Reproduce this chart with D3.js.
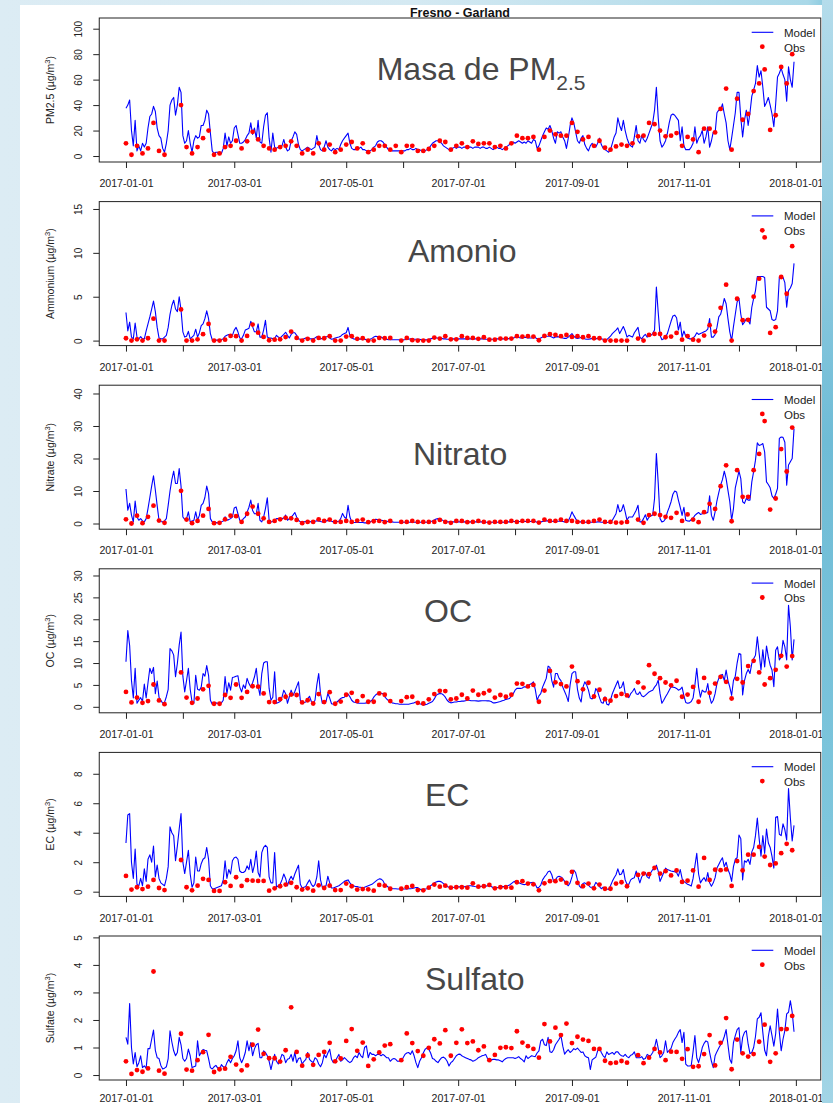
<!DOCTYPE html>
<html>
<head>
<meta charset="utf-8">
<script src="https://cdn.jsdelivr.net/npm/d3@7/dist/d3.min.js"></script>
<style>
html,body{margin:0;padding:0;background:#fff;}
svg{display:block;}
text{font-family:"Liberation Sans",Arial,sans-serif;}
</style>
</head>
<body>
<svg id="chart" width="833" height="1103"></svg>
<script>
// ================= DATA =================
const chartTitle = "Fresno - Garland";
const startDate = "2017-01-01";
const tickLabels = ["2017-01-01","2017-03-01","2017-05-01","2017-07-01","2017-09-01","2017-11-01","2018-01-01"];
const panelNames = ["Masa de PM", "Amonio", "Nitrato", "OC", "EC", "Sulfato"];
const axisNames = ["PM2.5", "Ammonium", "Nitrate", "OC", "EC", "Sulfate"];
const legendLabels = ["Model", "Obs"];
const yTicks = [[0,20,40,60,80,100],[0,5,10,15],[0,10,20,30,40],[0,5,10,15,20,25,30],[0,2,4,6,8],[0,1,2,3,4,5]];
const yLimits = [[-4.7,108.4],[-0.57,15.84],[-1.75,42.55],[-1.37,31.53],[-0.32,9.45],[-0.18,5.05]];

// daily model values, 2017-01-01 .. 2017-12-31
const modelPM25 = [
37.5,40,44,20,8,28,4,8,4,10, 7,10,22,31,33,39,35,22,16,14, 6,3,10,20,40,44,46,32,40,54,
50,16,10,12,20,10,3,12,16,14, 15,24,24,28,36,33,18,4,2,3, 3,2,2,6,18,8,15,10,12,22,
24,17,10,10,11,13,16,18,26,17, 22,14,28,11,10,23,32,34,14,3, 18,7,6,7,6,8,13,7,4,5,
12,15,19,17,9,5,4,5,6,7, 6,5,6,7,16,9,5,4,7,12, 7,5,4,6,5,6,5,9,12,14,
16,18,10,6,5,5,6,6,7,5, 5,4,4,4,5,7,8,11,12,12, 11,9,7,5,5,4,4,4,4,4,
4,4,4,5,5,6,5,5,6,5, 5,4,3,4,5,6,8,10,11,12, 12,11,10,8,7,6,5,6,6,7,
6,7,7,6,7,7,6,7,7,6, 7,7,7,6,7,7,6,6,7,6, 5,6,7,6,6,5,6,7,8,9,
10,11,10,11,12,11,10,11,10,12, 11,10,13,12,6,8,12,16,19,22, 21,24,20,14,10,19,18,19,15,12,
6,14,24,30,26,19,12,10,14,16, 9,6,4,8,10,8,7,10,14,9, 6,5,4,3,5,10,15,18,30,24,
20,28,20,14,10,8,7,15,24,12, 10,16,13,11,14,18,22,26,36,54, 30,12,7,9,12,18,26,32,33,32,
30,28,12,23,8,5,5,5,7,10, 23,10,14,16,20,10,15,23,7,12, 19,18,34,36,36,41,33,26,12,5,
14,24,34,50,50,30,15,28,36,24, 34,47,52,57,71,62,67,54,39,42, 46,40,33,23,41,62,65,69,64,60,
43,70,60,54,74];

const modelNH4 = [
3.2,1.1,2.1,0.4,0.2,2.0,0.4,0.2,0.45,0.2, 0.2,1.1,1.9,2.7,3.6,4.5,3.3,1.5,0.3,0.2, 0.2,0.4,0.6,1.5,3.0,4.0,4.6,3.6,3.3,5.0,
3.5,1.0,0.4,0.5,1.05,0.2,0.4,0.6,1.3,0.4, 0.9,1.7,1.9,2.5,3.4,2.5,0.8,0.1,0.05,0.05, 0.05,0.05,0.1,0.2,0.5,0.6,0.7,0.5,0.6,1.2,
1.5,1.0,0.3,0.2,0.6,1.2,1.3,1.4,2.2,1.6, 1.0,1.0,1.9,0.4,0.4,1.2,2.3,0.4,0.3,0.3, 0.2,0.2,0.6,0.4,0.3,0.5,0.7,0.95,0.6,0.3,
0.7,0.9,0.9,0.6,0.2,0.15,0.1,0.2,0.3,0.3, 0.2,0.2,0.2,0.3,0.45,0.3,0.2,0.25,0.3,0.4, 0.5,0.3,0.15,0.2,0.3,0.35,0.4,0.5,0.7,0.8,
0.9,1.5,0.6,0.3,0.2,0.15,0.15,0.2,0.15,0.15, 0.15,0.1,0.1,0.15,0.25,0.4,0.5,0.45,0.45,0.4, 0.3,0.2,0.15,0.1,0.1,0.1,0.1,0.1,0.1,0.1,
0.1,0.1,0.1,0.15,0.15,0.2,0.2,0.15,0.15,0.15, 0.15,0.1,0.1,0.1,0.1,0.15,0.2,0.25,0.3,0.3, 0.3,0.3,0.25,0.2,0.2,0.15,0.15,0.2,0.2,0.2,
0.2,0.2,0.2,0.2,0.2,0.2,0.2,0.2,0.2,0.2, 0.2,0.2,0.2,0.2,0.2,0.2,0.15,0.15,0.15,0.15, 0.15,0.15,0.2,0.2,0.2,0.2,0.2,0.2,0.2,0.25,
0.3,0.3,0.35,0.35,0.35,0.3,0.3,0.35,0.35,0.3, 0.3,0.3,0.35,0.35,0.2,0.2,0.3,0.4,0.45,0.5, 0.5,0.5,0.4,0.3,0.4,0.45,0.4,0.35,0.3,0.25,
0.25,0.4,0.6,0.8,0.5,0.3,0.25,0.3,0.35,0.3, 0.2,0.15,0.15,0.2,0.25,0.2,0.2,0.25,0.3,0.2, 0.15,0.1,0.1,0.3,0.5,0.8,1.0,1.2,1.45,0.8,
1.2,1.6,1.1,0.4,0.6,0.5,0.4,0.9,1.2,1.5, 0.4,0.2,0.5,0.7,0.4,0.5,0.6,0.8,1.2,6.1, 3.2,0.6,0.1,0.2,0.4,0.8,1.5,2.2,2.8,2.9,
2.6,1.2,2.1,0.4,1.1,0.5,0.3,0.2,0.2,0.3, 0.5,0.9,0.7,0.8,0.9,1.0,1.1,1.3,2.5,0.4, 0.4,0.7,1.5,2.7,3.0,3.8,4.8,4.2,2.5,1.0,
0.0,1.6,3.0,4.4,4.8,3.0,1.8,2.1,2.5,2.3, 1.9,3.8,4.8,5.7,7.3,7.3,7.3,7.3,7.2,3.8, 3.6,3.4,2.4,2.3,2.4,3.4,7.25,7.4,7.2,6.6,
3.8,5.7,6.0,6.5,8.8];

const modelNO3 = [
10.6,4.1,6.2,2.6,0.5,6.9,2.0,1.0,1.5,0.8, 0.5,1.5,4.6,8.0,11.5,14.7,10.3,5.5,1.0,0.6, 0.5,0.8,1.5,5.6,10.0,13.5,16.1,12.3,12.3,16.9,
11.5,2.0,1.3,1.5,3.6,0.5,0.8,1.0,3.6,1.0, 2.5,5.6,6.2,8.0,11.5,9.2,1.5,0.5,0.3,0.3, 0.2,0.2,0.5,0.8,2.05,1.0,1.2,1.5,2.0,4.8,
5.1,3.0,1.0,0.7,1.5,2.0,3.5,5.0,7.2,4.0, 3.0,3.0,6.2,1.0,0.5,2.0,4.6,7.9,1.0,0.5, 0.6,1.0,1.5,1.5,1.3,1.5,1.7,2.6,1.0,1.5,
2.0,2.6,3.4,2.0,1.0,0.5,0.5,0.5,0.6,0.7, 0.6,0.5,0.6,0.7,0.8,0.8,0.6,0.5,0.7,0.8, 0.9,0.9,0.7,0.5,0.5,0.6,0.7,1.5,3.1,2.0,
1.5,5.6,2.0,0.5,0.3,0.3,0.3,0.3,0.3,0.3, 0.2,0.2,0.3,0.5,0.8,1.1,1.3,1.2,1.0,1.0, 0.9,0.8,0.7,0.6,0.5,0.5,0.4,0.4,0.4,0.4,
0.4,0.4,0.4,0.4,0.4,0.4,0.4,0.4,0.4,0.4, 0.4,0.4,0.4,0.4,0.4,0.5,0.6,0.8,1.1,1.4, 1.5,1.4,1.2,0.8,0.6,0.5,0.5,0.5,0.5,0.5,
0.5,0.5,0.5,0.5,0.5,0.5,0.5,0.5,0.5,0.5, 0.5,0.5,0.5,0.5,0.5,0.5,0.4,0.4,0.4,0.4, 0.4,0.4,0.4,0.4,0.4,0.4,0.4,0.5,0.5,0.5,
0.6,0.6,0.6,0.6,0.6,0.6,0.6,0.6,0.6,0.6, 0.6,0.6,0.6,0.6,0.4,0.4,0.5,0.6,0.7,0.8, 0.8,0.8,0.7,0.6,0.6,0.7,0.7,0.7,0.6,0.5,
0.5,0.8,2.0,3.6,2.5,1.5,0.6,0.5,0.5,0.5, 0.4,0.4,0.4,0.4,0.4,0.4,0.4,0.5,0.5,0.4, 0.4,0.3,0.3,0.4,0.6,1.0,2.0,3.0,5.8,3.6,
4.0,5.8,3.6,1.0,2.0,2.0,2.0,3.0,4.1,5.6, 0.5,0.5,1.5,2.7,1.0,2.0,2.3,2.6,7.7,21.5, 12.5,1.5,0.5,0.7,1.5,3.5,5.0,6.7,9.0,10.0,
9.7,7.2,5.0,2.5,5.0,1.0,0.8,0.7,1.2,1.7, 2.5,3.0,3.4,2.8,3.0,3.1,3.2,3.4,8.5,2.5, 1.0,3.6,7.0,9.5,11.8,13.5,16.1,13.8,10.2,6.7,
1.0,4.6,11.0,13.5,16.1,13.8,6.7,6.2,7.7,7.2, 7.2,12.8,16.0,19.5,24.8,24.0,24.2,24.6,22.0,12.8, 12.0,11.0,8.5,7.7,9.0,10.8,26.2,26.6,26.5,25.0,
11.8,18.0,19.0,20.0,29.2];

const modelOC = [
10.3,17.4,14.0,6.0,2.0,8.8,0.8,1.5,2.1,1.2, 5.2,2.0,5.5,8.8,7.6,9.0,3.0,5.9,2.2,1.5, 0.8,1.0,2.3,4.0,13.3,12.8,11.8,6.9,9.9,14.1,
17.1,7.0,3.4,6.0,8.8,4.0,1.1,0.8,7.2,4.0, 3.8,4.5,7.6,7.0,9.4,7.2,1.5,0.6,0.8,0.9, 0.8,0.7,0.9,1.5,6.9,3.0,5.5,3.8,6.7,6.8,
7.0,7.1,4.5,3.4,5.0,4.2,6.5,5.3,4.5,5.5, 6.8,8.8,4.7,2.6,7.6,10.0,10.3,10.3,4.2,1.5, 2.2,8.0,0.8,1.0,1.2,2.2,3.8,3.0,0.8,2.3,
3.8,2.6,3.5,4.6,5.7,1.5,0.8,1.0,1.1,1.8, 2.4,1.2,0.8,1.5,5.0,7.6,3.0,0.8,1.0,1.2, 3.05,2.0,0.7,0.6,0.7,1.1,1.5,1.9,2.1,2.2,
2.6,2.9,2.3,1.5,1.1,1.0,0.9,0.8,0.8,0.8, 0.8,0.9,1.0,1.2,1.5,2.2,2.7,3.0,3.2,3.1, 3.0,2.3,1.8,1.4,1.1,0.9,0.8,0.7,0.7,0.6,
0.6,0.6,0.6,0.6,0.6,0.7,0.8,0.9,1.1,1.2, 0.7,0.6,0.4,0.5,0.6,0.8,1.0,1.2,1.8,2.6, 2.9,3.05,3.0,2.7,2.2,1.5,1.1,0.9,1.0,1.1,
1.1,1.2,1.2,1.3,1.3,1.4,1.5,1.5,1.4,1.4, 1.4,1.35,1.3,1.35,1.4,1.4,1.4,1.35,1.35,1.2, 0.9,0.9,1.0,1.1,1.2,1.4,1.5,1.7,1.8,1.9,
2.5,3.0,3.8,4.2,4.2,4.2,4.3,4.6,4.5,4.7, 5.1,5.3,5.7,4.0,1.5,2.5,3.0,4.5,5.5,6.5, 9.3,9.0,6.0,4.5,7.6,7.6,6.5,6.0,4.5,3.5,
2.5,1.2,5.0,7.6,8.0,8.0,4.0,2.0,1.1,4.5, 5.7,5.0,3.8,2.0,1.8,2.3,4.2,3.5,2.1,1.0, 0.8,2.3,0.6,0.4,1.5,3.0,4.0,5.0,5.95,4.2,
4.5,5.7,3.0,2.5,2.1,3.0,3.5,4.2,3.0,2.8, 3.4,2.5,2.3,2.6,3.0,3.4,3.6,3.8,4.5,5.0, 6.1,3.0,0.8,1.5,2.3,3.0,3.8,4.6,4.5,4.4,
4.2,3.8,4.0,4.5,2.5,1.0,0.8,0.9,1.2,2.0, 5.0,8.8,4.5,2.2,3.8,3.4,3.4,5.3,2.3,0.8, 1.5,3.0,5.3,6.5,7.2,7.4,6.0,8.4,6.0,4.5,
2.6,6.0,7.0,10.0,12.2,12.0,2.7,6.0,7.6,8.5, 7.6,9.9,11.0,11.8,16.0,12.2,8.4,13.0,9.1,13.9, 11.4,9.5,8.4,4.6,12.9,13.7,10.7,11.4,15.2,13.7,
10.7,23.2,18.3,10.7,15.4];

const modelEC = [
3.3,5.2,5.3,2.0,0.9,2.9,0.5,0.4,0.9,0.4, 1.55,0.7,2.2,2.5,2.0,3.1,1.0,1.8,0.9,0.6, 0.5,0.4,0.9,1.7,4.4,4.0,3.8,2.1,3.1,4.25,
5.3,2.0,1.23,2.0,2.8,1.2,0.3,0.6,2.35,1.4, 1.4,1.9,2.2,2.3,3.0,2.2,0.4,0.2,0.2,0.25, 0.3,0.35,0.4,0.8,2.1,0.9,1.5,1.2,2.1,2.3,
2.35,2.2,1.4,1.3,1.3,1.4,1.75,1.5,2.2,1.3, 1.8,2.75,1.3,1.0,2.65,3.0,3.15,3.0,1.0,0.6, 0.6,2.65,0.3,0.4,0.5,0.8,1.2,0.9,0.4,0.8,
1.05,0.8,1.2,1.5,1.8,0.5,0.25,0.3,0.35,0.6, 0.8,0.5,0.35,0.5,1.0,2.1,0.8,0.3,0.35,0.4, 1.05,0.6,0.25,0.25,0.3,0.35,0.4,0.5,0.6,0.7,
0.75,0.8,0.6,0.45,0.4,0.35,0.35,0.3,0.3,0.25, 0.3,0.35,0.4,0.45,0.5,0.6,0.7,0.8,0.87,0.85, 0.75,0.5,0.4,0.3,0.25,0.22,0.2,0.2,0.18,0.18,
0.18,0.18,0.18,0.18,0.2,0.2,0.22,0.25,0.28,0.28, 0.18,0.14,0.15,0.18,0.2,0.3,0.4,0.5,0.6,0.65, 0.7,0.7,0.65,0.55,0.45,0.35,0.3,0.27,0.28,0.3,
0.32,0.33,0.33,0.33,0.33,0.35,0.37,0.4,0.4,0.38, 0.35,0.33,0.33,0.35,0.37,0.37,0.38,0.4,0.4,0.35, 0.28,0.25,0.28,0.3,0.33,0.35,0.35,0.37,0.4,0.45,
0.55,0.65,0.7,0.65,0.6,0.55,0.5,0.48,0.5,0.55, 0.6,0.62,0.64,0.5,0.25,0.3,0.45,0.8,1.0,1.15, 1.35,1.4,1.15,0.7,0.8,1.0,1.05,1.0,0.9,0.7,
0.55,0.4,0.6,1.0,1.46,1.3,0.8,0.4,0.25,0.55, 0.6,0.5,0.45,0.3,0.3,0.35,0.63,0.5,0.35,0.2, 0.3,0.28,0.18,0.15,0.4,0.7,0.95,1.15,1.55,1.15,
1.2,1.5,0.8,0.5,0.5,0.8,0.9,0.95,1.4,1.0, 0.6,1.0,1.2,1.3,1.0,0.9,1.3,1.5,1.5,1.8, 1.4,0.7,1.0,1.3,1.6,1.5,1.45,1.4,1.38,1.35,
1.3,1.05,1.5,0.9,0.7,0.6,0.5,0.45,0.38,0.9, 1.75,2.6,1.2,0.6,0.8,0.95,0.7,1.3,0.6,0.37, 0.6,0.95,1.6,1.85,2.1,2.3,1.7,2.0,1.5,1.2,
0.7,1.7,2.2,2.3,3.85,3.6,0.8,2.1,2.0,2.2, 1.85,2.7,3.0,3.8,5.0,3.6,2.4,3.8,2.6,4.25, 3.3,3.0,2.4,1.6,5.05,5.1,3.9,3.8,4.6,4.2,
3.5,7.0,5.0,3.45,4.5];

const modelSO4 = [
1.37,1.12,2.6,1.0,0.4,0.82,0.3,0.45,0.7,0.27, 0.33,0.25,0.96,0.96,1.3,1.63,0.9,0.63,0.6,0.35, 0.22,0.25,0.3,0.6,1.61,1.2,0.88,0.7,0.82,1.37,
1.1,0.6,0.5,0.6,0.94,0.7,0.27,0.3,0.33,1.24, 0.7,0.82,0.93,0.9,0.88,0.6,0.27,0.22,0.3,0.35, 0.25,0.2,0.38,0.3,0.27,0.45,0.57,0.45,0.6,0.7,
0.88,1.24,0.63,0.45,0.6,0.82,1.24,0.88,1.18,0.7, 0.95,1.1,1.15,0.63,0.63,0.88,0.82,0.7,0.5,0.2, 0.5,0.75,0.5,0.4,0.55,0.75,0.7,0.45,0.57,0.6,
0.75,0.5,0.82,0.45,0.6,0.63,0.4,0.5,0.57,0.82, 0.57,0.5,0.45,0.63,0.57,0.4,0.3,0.45,0.75,0.63, 0.8,0.94,0.57,0.45,0.5,0.63,0.75,0.5,0.55,0.63,
0.57,0.5,0.45,0.5,0.63,0.7,0.63,0.82,0.7,0.63, 1.0,1.06,0.63,0.82,0.75,0.75,0.7,0.75,0.75,0.7, 0.75,0.7,0.63,0.63,0.5,0.57,0.6,0.57,0.5,0.5,
0.5,0.63,0.75,0.8,0.82,0.75,0.88,0.7,0.45,0.27, 0.5,0.63,0.8,0.94,0.98,0.94,0.8,0.6,0.57,0.5, 0.45,0.55,0.63,0.65,0.6,0.5,0.33,0.45,0.5,0.6,
0.7,0.75,0.76,0.7,0.66,0.63,0.6,0.57,0.55,0.5, 0.53,0.57,0.63,0.66,0.7,0.72,0.75,0.6,0.5,0.55, 0.57,0.57,0.55,0.55,0.52,0.48,0.55,0.6,0.63,0.63,
0.63,0.63,0.6,0.63,0.67,0.6,0.55,0.48,0.7,0.6, 0.65,0.7,0.68,0.67,0.8,0.88,1.24,1.3,1.1,1.07, 1.37,0.85,0.82,0.92,1.1,1.2,1.3,1.43,1.05,0.76,
0.85,0.92,0.82,0.88,0.96,0.92,0.98,0.9,0.82,0.84, 0.7,0.65,0.63,0.2,0.55,0.6,0.65,0.88,0.98,0.82, 0.7,0.63,0.84,0.75,0.78,0.82,0.75,0.84,0.84,0.75,
0.7,0.68,0.75,0.67,0.63,0.72,0.75,0.84,0.63,0.63, 0.63,0.67,0.57,0.6,0.75,0.7,0.72,0.82,1.0,1.3, 0.97,0.63,0.7,0.82,1.24,0.82,0.9,0.97,1.18,1.3,
1.4,1.55,1.65,1.18,1.55,0.4,0.33,0.33,0.35,0.85, 1.43,0.63,0.45,0.7,1.0,1.15,1.24,1.2,0.82,0.5, 0.27,0.7,0.85,0.98,1.1,1.2,1.4,1.65,1.1,0.57,
0.43,1.18,1.43,1.65,1.72,0.82,1.37,1.55,1.61,1.12, 0.78,0.82,1.0,1.4,2.04,2.1,2.26,1.55,0.9,0.7, 1.4,1.79,1.43,1.05,1.5,2.4,1.55,0.88,1.3,1.61,
2.22,2.28,2.7,2.28,1.57];

// observations every third day (2017-01-01, 01-04, ...), null = missing
const obsPM25 = [
10,1,8,2,6,26,4,1,null,null, 40,7,2,7,14,20,1,2,7,8, 12,6,11.5,19,13,8,6,5,7,8,
11.5,8,2,5,2,10,5,9,3,5, 9,11,6,10,3,5,8,8,5,8, 3,8,8,4,4,5.5,8,12,11,5,
8,10,7,11.5,9.5,10,10,7,8,6, 10,16,14,14,15,5,15,20,17,16, 16,26,19,13,15,8,12,6.5,5,7.5,
9,8,10,15.5,16,26,25,20,15.5,16, 18,8,15,13,3,21.5,21.5,18.5,37,53, 5,45,28.5,33,51,57,68,20.5,32,70,
57,80];
const obsNH4 = [
0.27,0,0.15,0,0.27,2.5,0,0,null,null, 3.55,0,0,0.15,0.73,1.9,0,0,0.1,0.53, 0.5,0,0.53,1.83,0.9,0.42,0.04,0.1,0.15,0.4,
1.03,0.3,0,0.2,0,0.3,0.27,0.5,0,0, 0.46,0.5,0.2,0.27,0,0,0.3,0.27,0.3,null, 0,0.3,0.05,0,0,0,0.34,0.23,0.5,0.15,
0.15,0.5,0.3,0.3,0.2,0.38,0.1,0.1,0.23,0.23, 0.23,0.5,0.46,0.5,0.46,0.04,0.53,0.73,0.65,0.5, 0.65,0.42,0.5,0.38,0.5,0.27,0.27,0,0,0,
0,0,null,0.23,0,0.65,0.76,0.76,0.38,0.46, 0.88,0.1,0.5,0.1,0,0.57,1.76,1.03,3.74,6.37, 0,4.77,2.33,2.37,5.0,7.06,11.76,0.88,1.53,7.25,
5.34,10.76];
const obsNO3 = [
1.3,0,2.4,0.1,2.05,5.5,0.9,0.2,null,null, 10.05,1.2,0.1,0.8,2.4,4.5,0.1,0.2,1.3,2.4, 2.25,0.5,3.0,5.2,3.0,1.6,0.5,0.8,1.3,1.75,
1.6,1.1,0.1,0.5,0.5,1.3,0.8,1.2,0.5,0.5, 0.8,0.5,0.9,1.2,0.4,0.7,0.8,0.4,0.8,null, 0.5,0.5,0.8,0.5,0.5,0.5,0.5,1.1,0.5,0.2,
0.8,0.8,0.4,0.5,0.8,0.5,0.3,0.5,0.5,0.5, 0.8,0.5,0.8,0.8,0.8,0.3,1.2,0.8,0.8,1.2, 0.8,0.8,0.5,0.5,0.5,0.8,1.2,0.5,0.5,0.3,
0.3,0.5,null,1.2,0.2,2.6,3.0,2.6,2.05,1.75, 3.3,0.8,2.8,1.2,0.4,3.5,6.05,4.5,11.5,17.9, 0.7,16.4,8.2,8.2,16.4,21.4,31.5,4.3,7.7,22.9,
16,29.5];
const obsOC = [
3.4,1.0,2.1,0.9,1.3,5.1,1.45,0.6,null,null, 7.85,2.1,0.9,1.9,4.0,4.8,0.7,0.7,2.7,2.05, 5.1,2.05,3.4,4.7,4.6,3.05,1.07,1.07,1.75,2.3,
2.8,2.7,1.0,1.5,0.76,2.9,1.07,3.35,0.7,1.2, 2.75,3.2,1.3,2.45,1.15,1.15,3.05,2.75,1.3,null, 1.3,2.2,2.3,0.9,0.76,1.7,2.9,3.65,3.6,1.7,
1.9,2.75,1.9,3.7,2.75,3.1,3.7,2.1,2.7,2.3, 2.75,5.3,5.25,4.65,5.0,1.15,3.7,8.2,5.6,5.2, 4.65,9.2,5.85,4.0,5.5,2.35,3.9,1.75,1.4,2.45,
2.95,2.6,null,5.6,4.4,9.5,7.55,6.55,5.55,4.9, 5.95,2.3,2.8,4.55,1.15,6.6,3.2,5.3,6.85,5.7, 1.9,6.4,5.55,9.3,10.5,7.85,5.1,6.55,8.45,11.65,
9.2,11.6];
const obsEC = [
1.07,0.14,0.3,0.18,0.34,0.8,0.25,0.11,null,null, 2.15,0.3,0.09,0.41,0.87,0.8,0.05,0.05,0.64,0.39, 0.98,0.39,0.78,0.75,0.73,0.73,0.07,0.23,0.37,0.48,
0.6,0.3,0.14,0.23,0.07,0.43,0.25,0.41,0.11,0.11, 0.55,0.37,0.14,0.18,0.16,0.07,0.46,0.41,0.2,null, 0.2,0.3,0.39,0.11,0.09,0.27,0.48,0.34,0.41,0.27,
0.3,0.3,0.27,0.57,0.34,0.37,0.46,0.23,0.3,0.3, 0.27,0.64,0.71,0.55,0.5,0.09,0.57,0.71,0.71,0.82, 0.6,1.35,0.6,0.37,0.55,0.23,0.48,0.2,0.2,0.55,
0.64,0.37,null,1.14,1.23,1.19,1.62,1.23,1.39,1.1, 1.44,0.66,0.75,1.44,0.34,2.29,0.8,1.49,1.46,1.51, 0.39,2.08,1.44,2.51,2.51,3.04,2.38,1.81,1.92,2.61,
3.25,2.81];
const obsSO4 = [
0.5,0.04,0.18,0.12,0.24,3.76,0.16,0.05,null,null, 1.5,0.2,0.16,0.54,0.83,1.46,0.11,0.21,0.23,0.66, 0.38,0.17,0.35,1.1,1.65,0.77,0.61,0.61,0.49,0.9,
2.46,0.84,0.34,0.71,0.37,0.73,0.84,1.17,0.5,0.6, 1.24,1.67,0.88,1.18,0.33,0.57,0.82,1.07,1.12,null, 0.54,1.51,1.16,0.87,0.7,0.99,1.3,1.15,1.63,0.7,
1.17,1.66,1.16,1.22,0.9,1.04,0.54,0.73,0.99,1.01, 0.98,1.59,1.18,1.05,0.95,0.63,1.85,1.22,1.72,1.45, 1.87,1.16,1.39,1.29,1.24,0.95,0.95,0.52,0.43,0.45,
0.51,0.45,null,0.72,0.43,0.63,0.95,0.82,0.54,0.85, 0.84,0.59,0.94,0.3,0.32,0.76,1.45,0.35,1.17,2.07, 0.21,1.29,0.79,0.67,0.76,1.21,1.83,0.48,0.79,1.67,
1.67,2.15];

const modelSeries = [modelPM25, modelNH4, modelNO3, modelOC, modelEC, modelSO4];
const obsSeries = [obsPM25, obsNH4, obsNO3, obsOC, obsEC, obsSO4];

// ================= LAYOUT =================
const W = 833, H = 1103;
const plotL = 99.25, plotR = 820.75;
const panelTop0 = 18, panelPitch = 183.6, panelH = 144;
const titleOffsets = [[376.7,61.5],[408,60.3],[413,80],[424,53.3],[425,53.7],[425,54]];
const DAY = 86400000;
const t0 = new Date(startDate + "T00:00:00Z");
const dayDate = d => new Date(t0.getTime() + d * DAY);

const svg = d3.select("#chart");
const defs = svg.append("defs");
const bg = defs.append("linearGradient").attr("id","bg").attr("x1","0").attr("x2","1").attr("y1","0").attr("y2","0");
bg.append("stop").attr("offset","0").attr("stop-color","#dcecf4");
bg.append("stop").attr("offset","0.5").attr("stop-color","#d4e9f2");
bg.append("stop").attr("offset","0.97").attr("stop-color","#a9d8e8");
bg.append("stop").attr("offset","1").attr("stop-color","#7cc3da");
const bgR = defs.append("linearGradient").attr("id","bgR").attr("x1","0").attr("x2","0").attr("y1","0").attr("y2","1");
bgR.append("stop").attr("offset","0").attr("stop-color","#b4dceb");
bgR.append("stop").attr("offset","0.4").attr("stop-color","#6fbcd6");
bgR.append("stop").attr("offset","0.75").attr("stop-color","#7ec6dc");
bgR.append("stop").attr("offset","1").attr("stop-color","#a3d5e6");
defs.append("clipPath").attr("id","clipW").append("rect").attr("x",20).attr("y",5).attr("width",802).attr("height",1098);

svg.append("rect").attr("width",W).attr("height",H).attr("fill","url(#bg)");
svg.append("rect").attr("x",822).attr("y",0).attr("width",11).attr("height",H).attr("fill","url(#bgR)");
svg.append("rect").attr("x",20).attr("y",5).attr("width",802).attr("height",H-5).attr("fill","#fff");

const root = svg.append("g").attr("clip-path","url(#clipW)");

const x = d3.scaleUtc().domain([dayDate(-14.56), dayDate(378.56)]).range([plotL, plotR]);
const monthTicks = d3.utcMonth.range(dayDate(0), dayDate(366));
const fmt = d3.utcFormat("%Y-%m-%d");
const labelSet = new Set(tickLabels);

// chart title
root.append("text").attr("x",(plotL+plotR)/2).attr("y",16.5).attr("text-anchor","middle")
  .attr("font-weight","bold").attr("font-size",12.5).attr("fill","#111").text(chartTitle);

panelNames.forEach((name, i) => {
  const top = panelTop0 + i * panelPitch, bottom = top + panelH;
  const y = d3.scaleLinear().domain(yLimits[i]).range([bottom, top]);
  const g = root.append("g");
  const lastPanel = i === panelNames.length - 1;

  // x axis
  const xa = g.append("g").attr("transform",`translate(0,${bottom})`)
    .call(d3.axisBottom(x).tickValues(monthTicks).tickSize(6).tickSizeOuter(0)
      .tickFormat(d => labelSet.has(fmt(d)) ? fmt(d) : ""));
  xa.select(".domain").remove();
  xa.selectAll(".tick line").attr("stroke","#222");
  xa.selectAll(".tick text").attr("y", lastPanel ? 22.3 : 25.3).attr("dy",0).attr("fill","#222")
    .attr("font-size",10.6).attr("font-family","Liberation Sans, Arial, sans-serif");

  // y axis
  const ya = g.append("g").attr("transform",`translate(${plotL},0)`)
    .call(d3.axisLeft(y).tickValues(yTicks[i]).tickSize(6).tickSizeOuter(0).tickFormat(d3.format("d")));
  ya.select(".domain").remove();
  ya.selectAll(".tick line").attr("stroke","#222");
  ya.selectAll(".tick text").attr("transform","rotate(-90)").attr("x",0).attr("y",-17.5).attr("dy",0)
    .attr("text-anchor","middle").attr("fill","#222").attr("font-size",10)
    .attr("font-family","Liberation Sans, Arial, sans-serif");

  // y title
  const yt = g.append("text").attr("transform",`translate(54,${top + panelH/2}) rotate(-90)`)
    .attr("text-anchor","middle").attr("font-size",10.5).attr("fill","#222");
  yt.append("tspan").text(axisNames[i] + " (\u00b5g/m");
  yt.append("tspan").attr("font-size",7.5).attr("dy",-4).text("3");
  yt.append("tspan").attr("dy",4).text(")");

  // box
  g.append("rect").attr("x",plotL).attr("y",top).attr("width",plotR-plotL).attr("height",panelH)
    .attr("fill","none").attr("stroke","#222").attr("stroke-width",1);

  // overlay title
  const to = titleOffsets[i];
  const tt = g.append("text").attr("x",to[0]).attr("y",top+to[1]).attr("font-size",32).attr("fill","#474747");
  tt.append("tspan").text(name);
  if (i === 0) tt.append("tspan").attr("font-size",21).attr("dy",10).text("2.5");

  // model line
  const model = modelSeries[i];
  const line = d3.line().defined(v => v != null).x((v, d) => x(dayDate(d))).y(v => y(v));
  g.append("path").datum(model).attr("d", line).attr("fill","none")
    .attr("stroke","#0000ff").attr("stroke-width",1.1).attr("stroke-linejoin","round");

  // observations
  const obs = obsSeries[i].map((v, k) => ({d: k * 3, v})).filter(o => o.v != null);
  g.selectAll("circle.obs").data(obs).join("circle").attr("class","obs")
    .attr("cx", o => x(dayDate(o.d))).attr("cy", o => y(o.v)).attr("r",2.4).attr("fill","#ff0000");

  // legend
  g.append("line").attr("x1",751.7).attr("x2",773.3).attr("y1",top+14.3).attr("y2",top+14.3)
    .attr("stroke","#0000ff").attr("stroke-width",1.1);
  g.append("text").attr("x",784).attr("y",top+18.8).attr("font-size",11.5).attr("fill","#222").text(legendLabels[0]);
  g.append("circle").attr("cx",762.3).attr("cy",top+28.7).attr("r",2.4).attr("fill","#ff0000");
  g.append("text").attr("x",784).attr("y",top+33.5).attr("font-size",11.5).attr("fill","#222").text(legendLabels[1]);
});
</script>
</body>
</html>
